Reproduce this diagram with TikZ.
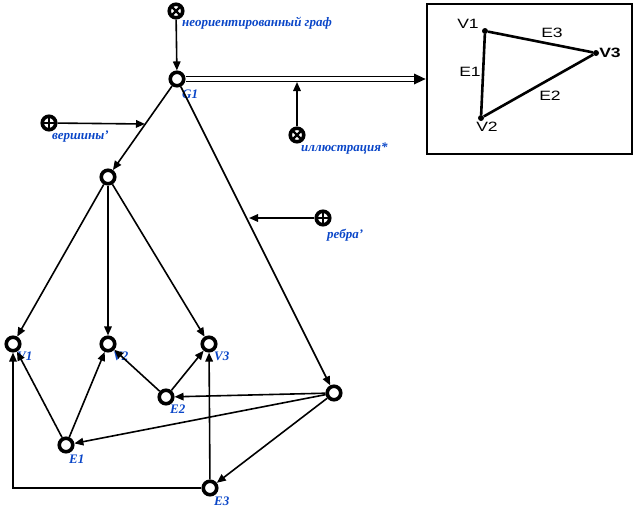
\documentclass[tikz,border=0pt]{standalone}
\usepackage{fontspec}
\setmainfont{Liberation Serif}
\newfontfamily\boxfont[FakeStretch=1.3]{Liberation Sans}
\usetikzlibrary{arrows.meta}
\definecolor{labblue}{RGB}{10,70,200}

\begin{document}
\begin{tikzpicture}[x=1pt,y=-1pt,
  vx/.style={circle, draw, line width=3.6pt, minimum size=13.5pt, inner sep=0pt, fill=white},
  opx/.style={vx, path picture={
      \draw[line width=2.2pt] (path picture bounding box.south west) -- (path picture bounding box.north east)
                            (path picture bounding box.north west) -- (path picture bounding box.south east);}},
  opp/.style={vx, path picture={
      \draw[line width=2.2pt] (path picture bounding box.west) -- (path picture bounding box.east)
                            (path picture bounding box.north) -- (path picture bounding box.south);}},
  lab/.style={anchor=west, text=labblue, font=\bfseries\itshape\fontsize{13}{13}\selectfont, inner sep=0pt},
  arr/.style={line width=1.6pt, -{Triangle[length=9pt,width=7.5pt]}},
  dline/.style={double, double distance=3.6pt, line width=1.2pt},
  dot/.style={circle, fill, minimum size=6pt, inner sep=0pt},
  tri/.style={line width=2.6pt},
  tlab/.style={font=\boxfont\fontsize{13.5}{13.5}\selectfont, inner sep=0pt},
]
\useasboundingbox (0,0) rectangle (636,514);

% main graph nodes
\node[opx] (top)  at (176,11) {};
\node[vx]  (G1)   at (177,79) {};
\node[opp] (vert) at (49,123) {};
\node[vx]  (A)    at (108,177) {};
\node[opx] (illu) at (297,135) {};
\node[opp] (reb)  at (323,218) {};
\node[vx]  (V1)   at (13,344) {};
\node[vx]  (V2)   at (108,344) {};
\node[vx]  (V3)   at (209,344) {};
\node[vx]  (E2)   at (166,397) {};
\node[vx]  (R)    at (334,393) {};
\node[vx]  (E1)   at (66,445) {};
\node[vx]  (E3)   at (210,488) {};

% labels
\node[lab] at (182,23)  {неориентированный граф};
\node[lab] at (182,94)  {G1};
\node[lab] at (52,137)  {вершины'};
\node[lab] at (301,149) {иллюстрация*};
\node[lab] at (327,235) {ребра'};
\node[lab] at (17,356)  {V1};
\node[lab] at (113,356) {V2};
\node[lab] at (214,356) {V3};
\node[lab] at (170,409) {E2};
\node[lab] at (69,459)  {E1};
\node[lab] at (214,501) {E3};

% picture frame with the triangle
\node[draw, line width=2.8pt, minimum width=205pt, minimum height=150pt, inner sep=0pt] (pic) at (529.5,79) {};
\node[dot] (t1) at (485,31) {};
\node[dot] (t2) at (481,118) {};
\node[dot] (t3) at (596,53) {};
\draw[tri] (t1) -- (t3) -- (t2) -- (t1);
\node[tlab] at (468,24)  {V1};
\node[tlab] at (487,127) {V2};
\node[tlab, font=\boxfont\bfseries\fontsize{13.5}{13.5}\selectfont] at (610,53) {V3};
\node[tlab] at (552,33)  {E3};
\node[tlab] at (470,72)  {E1};
\node[tlab] at (550,96)  {E2};

% hollow arrow from G1 to the frame
\coordinate (dend) at (414,79);
\coordinate (dtip) at (pic.west |- G1);
\draw[dline] (G1) -- (dend);
\fill ([yshift=5.5pt]dend) -- (dtip) -- ([yshift=-5.5pt]dend) -- cycle;
\coordinate (dlow) at (297,82);
\draw[arr] (illu) -- (dlow);

% connectors
\draw[arr] (top) -- (G1);
\draw[arr] (G1) -- (A);
\coordinate (ga) at (145,124);
\draw[arr] (vert) -- (ga);
\draw[arr] (G1) -- (R);
\coordinate (gr) at (249,218);
\draw[arr] (reb) -- (gr);
\draw[arr] (A) -- (V1);
\draw[arr] (A) -- (V2);
\draw[arr] (A) -- (V3);
\draw[arr] (E2) -- (V2);
\draw[arr] (E2) -- (V3);
\draw[arr] (E1) -- (V1);
\draw[arr] (E1) -- (V2);
\draw[arr] (E3) -- (V3);
\draw[arr] (E3) -| (V1);
\draw[arr] (R) -- (E2);
\draw[arr] (R) -- (E1);
\draw[arr] (R) -- (E3);
\end{tikzpicture}
\end{document}
